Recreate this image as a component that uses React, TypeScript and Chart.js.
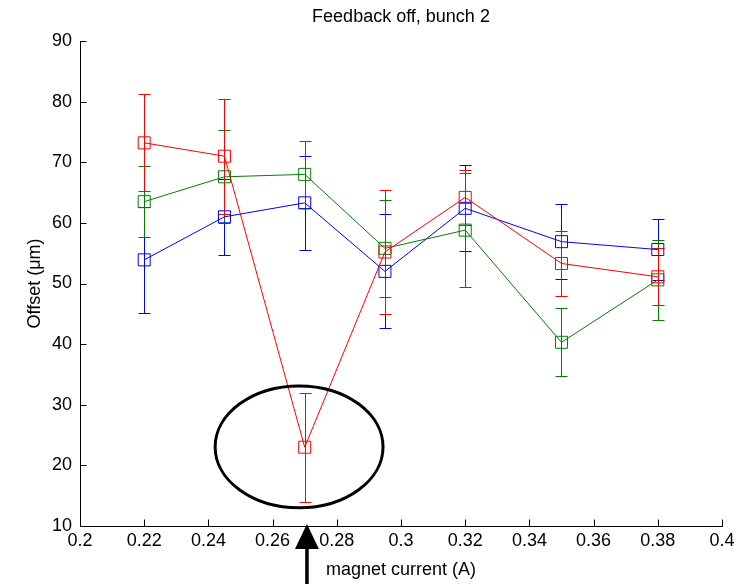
import React, { useEffect, useRef } from "react";
import { Chart, registerables } from "chart.js";

Chart.register(...registerables);

// ---- data ----
const xValues = [0.22, 0.245, 0.27, 0.295, 0.32, 0.35, 0.38];

const redMean = [73.2, 71.0, 23.0, 55.2, 64.2, 53.3, 51.1];
const redErr = [8.0, 9.5, 9.0, 10.3, 4.5, 5.3, 4.7];

const greenMean = [63.5, 67.6, 68.0, 55.8, 58.8, 40.3, 50.6];
const greenErr = [5.9, 7.7, 5.5, 8.0, 9.4, 5.6, 6.6];

const blueMean = [53.9, 61.0, 63.3, 52.0, 62.4, 56.9, 55.6];
const blueErr = [8.8, 6.3, 7.8, 9.4, 7.1, 6.2, 5.0];

const xTicks = [0.2, 0.22, 0.24, 0.26, 0.28, 0.3, 0.32, 0.34, 0.36, 0.38, 0.4];
const xTickLabels = ["0.2", "0.22", "0.24", "0.26", "0.28", "0.3", "0.32", "0.34", "0.36", "0.38", "0.4"];
const yTicks = [10, 20, 30, 40, 50, 60, 70, 80, 90];

const titleText = "Feedback off, bunch 2";
const xLabel = "magnet current (A)";
const yLabel = "Offset (\u03bcm)";

// annotation (data coordinates)
const ellipseX = [0.2421, 0.2944];
const ellipseY = [13.0, 33.1];
const arrowX = 0.2707;

const RED = "#ff0000";
const GREEN = "#008000";
const BLUE = "#0000ff";
const FONT = "'Liberation Sans', Arial, sans-serif";

const series = [
  { name: "red", color: RED, mean: redMean, err: redErr },
  { name: "green", color: GREEN, mean: greenMean, err: greenErr },
  { name: "blue", color: BLUE, mean: blueMean, err: blueErr },
];

const decorPlugin = {
  id: "decor",
  beforeDatasetsDraw(chart: any) {
    const { ctx } = chart;
    const xs = chart.scales.x;
    const ys = chart.scales.y;
    ctx.save();
    ctx.lineWidth = 1;
    // draw blue, green, red order (red on top)
    [...series].reverse().forEach((s) => {
      ctx.strokeStyle = s.color;
      xValues.forEach((xv, i) => {
        const px = Math.round(xs.getPixelForValue(xv)) + 0.5;
        const top = Math.round(ys.getPixelForValue(s.mean[i] + s.err[i])) + 0.5;
        const bot = Math.round(ys.getPixelForValue(s.mean[i] - s.err[i])) + 0.5;
        ctx.beginPath();
        ctx.moveTo(px, top);
        ctx.lineTo(px, bot);
        ctx.moveTo(px - 6, top);
        ctx.lineTo(px + 6, top);
        ctx.moveTo(px - 6, bot);
        ctx.lineTo(px + 6, bot);
        ctx.stroke();
      });
    });
    ctx.restore();
  },
  afterDraw(chart: any) {
    const { ctx, chartArea } = chart;
    const xs = chart.scales.x;
    const ys = chart.scales.y;
    ctx.save();
    // inward ticks
    ctx.strokeStyle = "#000";
    ctx.lineWidth = 1;
    ctx.beginPath();
    const b = Math.round(chartArea.bottom) + 0.5;
    const l = Math.round(chartArea.left) + 0.5;
    xTicks.forEach((v) => {
      const px = Math.round(xs.getPixelForValue(v)) + 0.5;
      ctx.moveTo(px, b);
      ctx.lineTo(px, b - 7);
    });
    yTicks.forEach((v) => {
      const py = Math.round(ys.getPixelForValue(v)) + 0.5;
      ctx.moveTo(l, py);
      ctx.lineTo(l + 6, py);
    });
    ctx.stroke();

    // title
    ctx.fillStyle = "#000";
    ctx.font = `18px ${FONT}`;
    ctx.textAlign = "center";
    ctx.textBaseline = "middle";
    ctx.fillText(titleText, (chartArea.left + chartArea.right) / 2, 17);

    // ellipse annotation
    const ex0 = xs.getPixelForValue(ellipseX[0]);
    const ex1 = xs.getPixelForValue(ellipseX[1]);
    const ey0 = ys.getPixelForValue(ellipseY[1]);
    const ey1 = ys.getPixelForValue(ellipseY[0]);
    ctx.lineWidth = 3;
    ctx.strokeStyle = "#000";
    ctx.beginPath();
    ctx.ellipse((ex0 + ex1) / 2, (ey0 + ey1) / 2, (ex1 - ex0) / 2, (ey1 - ey0) / 2, 0, 0, Math.PI * 2);
    ctx.stroke();

    // arrow
    const ax = xs.getPixelForValue(arrowX);
    const tipY = chartArea.bottom - 2;
    const baseY = tipY + 25;
    ctx.fillStyle = "#000";
    ctx.beginPath();
    ctx.moveTo(ax, tipY);
    ctx.lineTo(ax - 12, baseY);
    ctx.lineTo(ax + 12, baseY);
    ctx.closePath();
    ctx.fill();
    ctx.lineWidth = 3.5;
    ctx.beginPath();
    ctx.moveTo(ax, baseY - 1);
    ctx.lineTo(ax, chart.height);
    ctx.stroke();
    ctx.restore();
  },
};

export default function App() {
  const canvasRef = useRef<HTMLCanvasElement | null>(null);

  useEffect(() => {
    const canvas = canvasRef.current;
    if (!canvas) return;
    const chart = new Chart(canvas, {
      type: "line",
      data: {
        datasets: series.map((s) => ({
          label: s.name,
          data: xValues.map((xv, i) => ({ x: xv, y: s.mean[i] })),
          borderColor: s.color,
          borderWidth: 1,
          tension: 0,
          fill: false,
          pointStyle: "rect",
          pointRadius: 8.5,
          pointHoverRadius: 8.5,
          pointBorderWidth: 1,
          pointBorderColor: s.color,
          pointBackgroundColor: "rgba(0,0,0,0)",
        })),
      },
      options: {
        responsive: false,
        animation: false,
        devicePixelRatio: 1,
        layout: { padding: { top: 41, right: 17, left: 0, bottom: 0 } },
        plugins: {
          legend: { display: false },
          title: { display: false },
          tooltip: { enabled: false },
        },
        events: [],
        scales: {
          x: {
            type: "linear",
            min: 0.2,
            max: 0.4,
            afterBuildTicks: (s: any) => {
              s.ticks = xTicks.map((v) => ({ value: v }));
            },
            afterFit: (s: any) => {
              s.height = 58;
            },
            grid: { display: false, drawTicks: false, tickLength: 0 },
            border: { display: true, color: "#000", width: 1 },
            ticks: {
              color: "#000",
              padding: 4,
              maxRotation: 0,
              autoSkip: false,
              font: { family: FONT, size: 18 },
              callback: (v: any) => {
                const idx = xTicks.findIndex((t) => Math.abs(t - Number(v)) < 1e-9);
                return idx >= 0 ? xTickLabels[idx] : "";
              },
            },
            title: {
              display: true,
              text: xLabel,
              color: "#000",
              font: { family: FONT, size: 18 },
              padding: { top: 0, bottom: 3 },
            },
          },
          y: {
            type: "linear",
            min: 10,
            max: 90,
            afterBuildTicks: (s: any) => {
              s.ticks = yTicks.map((v) => ({ value: v }));
            },
            afterFit: (s: any) => {
              s.width = 80;
            },
            grid: { display: false, drawTicks: false, tickLength: 0 },
            border: { display: true, color: "#000", width: 1 },
            ticks: {
              color: "#000",
              padding: 8,
              autoSkip: false,
              font: { family: FONT, size: 18 },
              callback: (v: any) => String(v),
            },
            title: {
              display: true,
              text: yLabel,
              color: "#000",
              font: { family: FONT, size: 18 },
              padding: { top: 24, bottom: 0 },
            },
          },
        },
      },
      plugins: [decorPlugin],
    });
    return () => chart.destroy();
  }, []);

  return (
    <div style={{ position: "fixed", left: 0, top: 0, width: 739, height: 584, background: "#fff" }}>
      <canvas ref={canvasRef} width={739} height={584} />
    </div>
  );
}
